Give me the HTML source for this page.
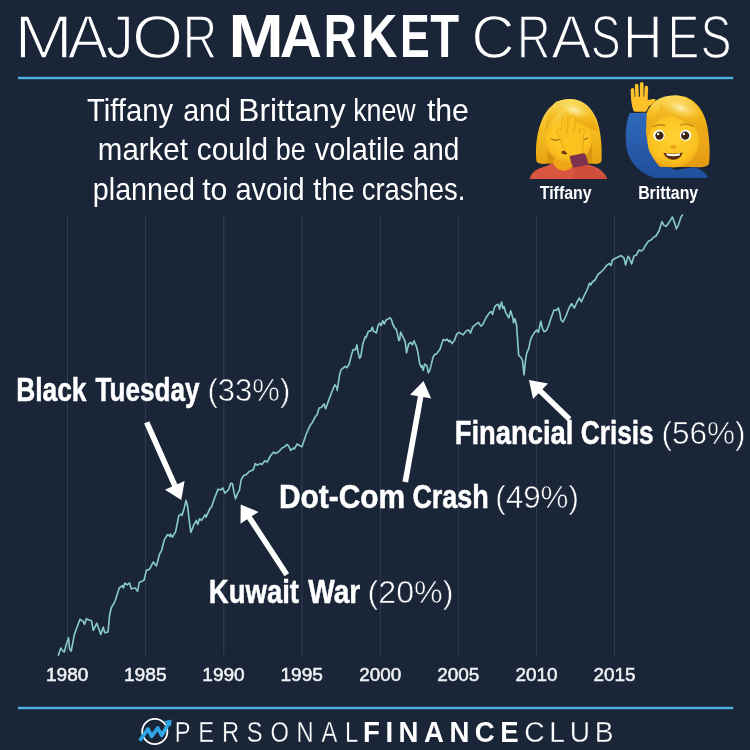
<!DOCTYPE html>
<html lang="en">
<head>
<meta charset="utf-8">
<title>Major Market Crashes</title>
<style>
html,body{margin:0;padding:0;background:#1a2538;}
body{width:750px;height:750px;overflow:hidden;position:relative;font-family:"Liberation Sans", sans-serif;}
svg{display:block}
#chart{will-change:transform;position:absolute;left:0;top:0;width:750px;height:750px;font-family:"Liberation Sans", sans-serif;}
#chart text{white-space:pre}
</style>
</head>
<body>
<svg id="chart" width="750" height="750" viewBox="0 0 750 750">
<rect width="750" height="750" fill="#1a2538"/>
<g id="rules" fill="#4eafde">
<rect x="18" y="76.75" width="715.2" height="2.45"/>
<rect x="18" y="706.75" width="715.2" height="2.45"/>
</g>
<g id="grid" stroke="#323e50" stroke-width="1"><line x1="67.5" y1="215" x2="67.5" y2="655.5"/><line x1="145.6" y1="215" x2="145.6" y2="655.5"/><line x1="223.8" y1="215" x2="223.8" y2="655.5"/><line x1="302.0" y1="215" x2="302.0" y2="655.5"/><line x1="380.3" y1="215" x2="380.3" y2="655.5"/><line x1="458.4" y1="215" x2="458.4" y2="655.5"/><line x1="536.6" y1="215" x2="536.6" y2="655.5"/><line x1="614.6" y1="215" x2="614.6" y2="655.5"/></g>
<polyline id="index" points="58.4,655.2 60.8,648.0 62.4,650.4 64.3,652.0 66.4,644.0 68.5,637.9 69.6,648.8 71.2,651.2 74.4,634.4 80.0,619.2 83.2,621.6 84.5,624.5 86.4,618.7 88.8,620.0 91.5,620.8 93.3,630.4 96.8,623.2 100.8,634.4 103.2,627.2 104.8,632.8 108.0,632.0 109.6,615.2 111.2,608.0 115.2,600.8 119.2,588.0 122.4,585.6 123.5,588.0 124.8,583.2 127.2,584.8 129.6,582.9 131.2,588.8 135.2,588.0 137.6,591.2 139.2,582.4 144.0,580.3 146.4,570.4 148.8,569.6 150.0,568.4 153.2,562.0 156.4,566.0 159.6,554.0 161.5,550.8 164.4,539.6 167.6,534.5 170.0,536.4 170.5,534.0 172.4,537.2 175.6,531.6 178.8,515.6 181.2,514.0 182.0,515.6 184.4,507.6 186.0,500.4 187.6,506.0 189.2,520.4 190.8,532.4 194.0,524.4 196.4,520.4 197.7,524.4 199.6,518.8 201.5,520.4 205.2,514.8 206.0,517.2 210.0,508.4 211.6,506.8 214.0,499.6 218.0,489.2 220.4,490.0 222.8,488.0 224.9,493.2 228.4,490.0 230.8,483.3 232.4,483.6 234.0,492.4 235.6,498.8 238.0,492.4 239.3,490.8 241.2,479.6 243.6,475.6 246.0,474.8 249.2,471.6 253.2,470.0 255.3,463.6 257.2,465.2 260.4,463.6 262.0,464.4 264.8,460.8 267.2,462.1 270.4,456.0 273.6,452.0 275.2,453.6 278.4,452.0 282.4,447.7 284.0,447.2 287.2,444.5 288.8,446.4 290.7,450.4 293.6,448.0 294.4,448.8 297.1,444.0 301.9,446.9 306.4,433.6 310.4,424.8 312.0,423.2 315.2,416.8 316.8,415.2 319.2,408.0 321.6,407.2 324.0,404.0 325.6,408.8 328.8,400.0 331.2,393.6 334.8,384.8 336.7,387.2 337.2,390.4 339.6,374.4 341.2,369.6 345.2,366.4 346.8,367.7 349.2,364.0 351.6,354.4 353.2,349.6 355.6,349.6 356.9,344.8 358.0,352.0 359.6,358.4 360.7,356.8 362.8,344.0 365.2,336.8 366.0,337.6 368.4,331.2 370.8,330.9 372.4,327.2 373.5,331.2 376.4,332.8 378.0,325.6 379.6,323.2 381.2,325.6 382.8,320.8 384.4,324.0 386.0,320.0 387.6,319.2 390.0,317.6 391.6,320.0 392.7,324.0 394.8,328.0 396.4,329.6 397.5,334.4 398.8,340.5 399.6,340.0 400.7,332.0 403.6,338.4 405.2,341.6 406.5,352.8 408.7,344.0 410.8,342.4 412.4,344.8 414.0,340.8 416.4,346.4 418.0,352.8 419.6,363.2 421.2,367.2 422.0,365.6 423.1,370.4 424.7,364.0 426.8,365.6 428.4,372.8 430.0,369.6 433.2,356.8 434.8,354.4 436.4,353.9 440.0,349.2 443.2,339.6 445.6,340.4 447.2,339.1 448.8,341.7 449.9,340.4 452.0,343.6 454.4,340.4 456.8,334.0 459.2,332.4 461.6,334.0 463.2,334.8 466.4,330.8 468.8,330.0 470.4,333.2 472.8,326.8 476.0,324.1 478.4,322.5 480.8,326.0 482.4,325.2 486.4,317.2 489.6,312.4 491.5,311.6 492.5,314.5 494.4,307.6 496.0,305.2 498.4,304.4 499.5,309.2 501.6,302.0 502.9,308.4 504.0,306.5 505.6,312.4 508.0,316.4 508.8,318.0 510.7,310.8 512.8,318.0 513.6,322.8 514.9,318.8 516.5,324.4 517.6,340.4 518.7,355.6 520.8,357.2 522.4,360.4 524.0,374.8 525.6,359.6 526.7,353.2 528.8,348.4 530.4,340.4 532.0,336.4 535.2,331.6 536.8,330.0 538.4,332.4 540.8,321.2 542.4,328.4 544.0,331.6 546.4,330.8 548.8,325.2 550.0,321.0 554.0,310.0 556.4,310.4 558.4,308.0 560.0,314.0 561.0,320.0 563.0,322.0 566.0,316.0 569.0,308.0 571.6,303.6 574.4,308.0 577.0,302.0 579.4,298.0 581.4,302.0 584.0,296.0 587.0,290.0 589.6,283.0 590.6,285.0 592.4,282.0 595.0,280.0 598.0,274.4 601.0,272.0 604.0,269.0 607.0,265.0 609.6,263.6 611.0,265.6 612.4,260.0 616.0,258.0 619.0,256.4 621.0,255.6 624.0,258.0 625.6,265.0 628.0,256.4 629.4,258.0 631.6,264.0 634.0,256.0 636.4,255.0 639.0,250.0 641.6,251.0 643.6,249.0 646.0,244.4 648.6,241.0 651.0,240.0 654.0,237.0 656.0,236.0 659.0,231.0 662.0,221.6 663.6,225.0 666.0,226.4 669.0,222.4 672.4,217.0 675.0,224.0 676.4,229.0 678.4,225.0 681.0,217.0 682.4,215.0" fill="none" stroke="#86cac3" stroke-width="1.65" stroke-linejoin="round" stroke-linecap="round"/>
<g id="arrows" fill="#fff"><polygon points="144.1,423.4 172.2,486.5 165.0,489.8 181.3,500.0 184.6,481.0 177.3,484.2 149.3,421.2"/><polygon points="289.1,573.2 251.8,516.2 258.5,511.9 240.7,504.4 240.5,523.7 247.1,519.3 284.5,576.2"/><polygon points="408.1,482.5 423.4,397.1 431.2,398.6 423.5,380.9 410.1,394.7 417.9,396.2 402.5,481.5"/><polygon points="571.4,417.2 542.5,389.2 548.0,383.5 529.0,380.1 533.0,398.9 538.6,393.2 567.6,421.2"/></g>
<svg id="tiffany" x="525" y="90" width="90" height="90" viewBox="0 0 750 750">
<defs>
<linearGradient id="hairG" x1="0" y1="0" x2="0" y2="1"><stop offset="0" stop-color="#fbd95a"/><stop offset="0.5" stop-color="#f4bb1f"/><stop offset="1" stop-color="#e7a312"/></linearGradient>
<radialGradient id="skinG" cx="0.5" cy="0.4" r="0.65"><stop offset="0" stop-color="#fdd233"/><stop offset="0.7" stop-color="#fbc21f"/><stop offset="1" stop-color="#eea417"/></radialGradient>
<radialGradient id="hlT" cx="0.5" cy="0.5" r="0.5"><stop offset="0" stop-color="#fff6c8" stop-opacity=".85"/><stop offset="1" stop-color="#fbd95a" stop-opacity="0"/></radialGradient>
</defs>
<path d="M95 590C85 480 95 330 160 210C215 115 300 75 375 75C470 75 550 130 595 240C630 330 645 470 638 590C636 612 600 622 555 612L185 612C140 622 98 612 95 590Z" fill="url(#hairG)"/>
<path d="M190 612L555 612L560 430L185 430Z" fill="#d8930f"/>
<path d="M40 742C50 690 90 660 160 640L260 600L400 600L540 625C620 650 670 690 685 742Z" fill="#d8553f"/>
<path d="M232 600C255 690 385 700 412 605L400 560L250 560Z" fill="#eea416"/>
<ellipse cx="365" cy="420" rx="192" ry="185" fill="url(#skinG)"/>
<path d="M250 105C200 160 168 250 172 350C200 285 240 225 285 190Z" fill="url(#hairG)"/>
<path d="M250 105C300 205 450 295 607 350C597 240 545 130 440 90C370 65 290 80 250 105Z" fill="url(#hairG)"/>
<ellipse cx="410" cy="165" rx="150" ry="72" fill="url(#hlT)" transform="rotate(18 410 165)"/>
<path d="M215 405Q250 428 290 410" fill="none" stroke="#9a6410" stroke-width="9" stroke-linecap="round"/>
<path d="M470 408Q495 418 520 400" fill="none" stroke="#9a6410" stroke-width="9" stroke-linecap="round"/>
<ellipse cx="330" cy="522" rx="27" ry="14" fill="#6a3a0d" transform="rotate(12 330 522)"/>
<g fill="none" stroke-linecap="round" stroke="#e6a014">
<path d="M322 350L334 246" stroke-width="52"/><path d="M378 340L395 242" stroke-width="54"/><path d="M428 350L444 288" stroke-width="50"/><path d="M464 380L482 338" stroke-width="44"/><path d="M318 400L284 348" stroke-width="44"/>
</g>
<path d="M288 350C285 430 328 520 384 556L474 536C488 470 492 400 482 352Z" fill="#fac11f" stroke="#e6a014" stroke-width="8"/>
<g fill="none" stroke-linecap="round" stroke="#fac11f">
<path d="M322 350L334 246" stroke-width="42"/><path d="M378 340L395 242" stroke-width="44"/><path d="M428 350L444 288" stroke-width="40"/><path d="M464 380L482 338" stroke-width="34"/><path d="M318 400L284 348" stroke-width="34"/>
</g>
<path d="M372 550L496 526C516 560 526 600 528 626L402 648C386 612 376 580 372 550Z" fill="#7d3350"/>
<path d="M402 648L528 626C590 660 652 700 685 742L410 742Z" fill="#cf4e3b"/>
</svg>

<svg id="brittany" x="620" y="78" width="100" height="100" viewBox="0 0 750 750">
<defs>
<linearGradient id="blueG" x1="0" y1="0" x2="0" y2="1"><stop offset="0" stop-color="#2f69bb"/><stop offset="1" stop-color="#1f4f9b"/></linearGradient>
<linearGradient id="hairB" x1="0" y1="0" x2="0" y2="1"><stop offset="0" stop-color="#f6c02a"/><stop offset="0.5" stop-color="#efab1a"/><stop offset="1" stop-color="#e39a11"/></linearGradient>
<radialGradient id="hlG" cx="0.5" cy="0.5" r="0.5"><stop offset="0" stop-color="#fff6c8" stop-opacity=".85"/><stop offset="1" stop-color="#fbd95a" stop-opacity="0"/></radialGradient>
</defs>
<path d="M72 262C45 330 36 430 48 520C60 620 140 712 260 752L657 752C655 722 620 692 560 668L420 690C330 665 250 600 225 520C205 440 198 340 203 262Z" fill="url(#blueG)"/>
<path d="M200 262C230 180 330 130 430 132C540 135 622 220 652 350C672 450 677 560 668 640C664 668 610 674 560 668L300 668C240 610 200 500 195 400Z" fill="url(#hairB)"/>
<ellipse cx="400" cy="478" rx="193" ry="193" fill="url(#skinG)"/>
<path d="M285 160C230 190 198 260 203 392C225 325 260 272 304 232Z" fill="url(#hairG)"/>
<path d="M285 160C330 262 480 342 654 404C644 282 572 162 430 132C370 128 320 140 285 160Z" fill="url(#hairG)"/>
<ellipse cx="455" cy="225" rx="150" ry="70" fill="url(#hlG)" transform="rotate(22 455 225)"/>
<path d="M250 366Q290 340 335 356" fill="none" stroke="#c08816" stroke-width="11" stroke-linecap="round"/>
<path d="M455 353Q500 335 545 363" fill="none" stroke="#c08816" stroke-width="11" stroke-linecap="round"/>
<ellipse cx="293" cy="430" rx="43" ry="41" fill="#fff"/>
<ellipse cx="492" cy="430" rx="43" ry="41" fill="#fff"/>
<circle cx="296" cy="432" r="31" fill="#3a2410"/>
<circle cx="489" cy="432" r="31" fill="#3a2410"/>
<circle cx="286" cy="420" r="9" fill="#fff"/>
<circle cx="479" cy="420" r="9" fill="#fff"/>
<ellipse cx="400" cy="516" rx="23" ry="14" fill="#ee9f18"/>
<path d="M325 560Q400 576 470 558Q455 610 400 613Q345 610 325 560Z" fill="#5b2c10"/>
<path d="M345 565Q400 579 452 564L447 581Q400 591 353 582Z" fill="#fff"/>
<g fill="none" stroke="#fbc02a" stroke-linecap="round" stroke-width="27">
<path d="M96 150L94 88"/><path d="M128 140L125 56"/><path d="M163 138L163 43"/><path d="M194 145L198 72"/>
</g>
<path d="M82 140C84 185 92 225 104 250L192 254C204 240 212 225 215 214C240 200 262 180 268 164C262 150 235 160 208 166L208 140Z" fill="#fbc02a"/>
<path d="M104 250L192 254" stroke="#e09a14" stroke-width="6" fill="none"/>
</svg>

<g id="logo">
<circle cx="154.8" cy="731.5" r="12.6" fill="none" stroke="#fff" stroke-width="1.8"/>
<polyline points="139.7,740.7 148,729 151.7,736.3 157.7,728 161.7,735.3 169,723" fill="none" stroke="#2fa6e6" stroke-width="3.7" stroke-linejoin="round"/>
<polygon points="171.6,719.6 163.8,721.2 170.9,726.6" fill="#2fa6e6"/>
</g>
<g id="labels" fill="#fff">
<text id="t_major" font-size="61.90" stroke="#1a2538" stroke-width="1.60"><tspan id="t_major_0" class="ti" x="14.25" y="57.60" textLength="58.73" lengthAdjust="spacingAndGlyphs">M</tspan><tspan id="t_major_1" class="ti" x="67.75" y="57.60" textLength="40.32" lengthAdjust="spacingAndGlyphs">A</tspan><tspan id="t_major_2" class="ti" x="105.90" y="57.60" textLength="27.61" lengthAdjust="spacingAndGlyphs">J</tspan><tspan id="t_major_3" class="ti" x="132.00" y="57.60" textLength="51.19" lengthAdjust="spacingAndGlyphs">O</tspan><tspan id="t_major_4" class="ti" x="182.65" y="57.60" textLength="34.46" lengthAdjust="spacingAndGlyphs">R</tspan></text>
<text id="t_market" font-size="61.10" font-weight="700"><tspan id="t_market_0" class="ti" x="228.40" y="56.80" textLength="55.15" lengthAdjust="spacingAndGlyphs">M</tspan><tspan id="t_market_1" class="ti" x="279.85" y="56.80" textLength="42.18" lengthAdjust="spacingAndGlyphs">A</tspan><tspan id="t_market_2" class="ti" x="323.85" y="56.80" textLength="33.11" lengthAdjust="spacingAndGlyphs">R</tspan><tspan id="t_market_3" class="ti" x="360.75" y="56.80" textLength="36.64" lengthAdjust="spacingAndGlyphs">K</tspan><tspan id="t_market_4" class="ti" x="400.00" y="56.80" textLength="29.76" lengthAdjust="spacingAndGlyphs">E</tspan><tspan id="t_market_5" class="ti" x="430.20" y="56.80" textLength="28.83" lengthAdjust="spacingAndGlyphs">T</tspan></text>
<text id="t_crashes" font-size="61.90" stroke="#1a2538" stroke-width="1.60"><tspan id="t_crashes_0" class="ti" x="471.25" y="57.60" textLength="43.57" lengthAdjust="spacingAndGlyphs">C</tspan><tspan id="t_crashes_1" class="ti" x="517.05" y="57.60" textLength="33.58" lengthAdjust="spacingAndGlyphs">R</tspan><tspan id="t_crashes_2" class="ti" x="551.20" y="57.60" textLength="40.01" lengthAdjust="spacingAndGlyphs">A</tspan><tspan id="t_crashes_3" class="ti" x="590.70" y="57.60" textLength="29.84" lengthAdjust="spacingAndGlyphs">S</tspan><tspan id="t_crashes_4" class="ti" x="622.75" y="57.60" textLength="39.87" lengthAdjust="spacingAndGlyphs">H</tspan><tspan id="t_crashes_5" class="ti" x="667.50" y="57.60" textLength="31.86" lengthAdjust="spacingAndGlyphs">E</tspan><tspan id="t_crashes_6" class="ti" x="700.55" y="57.60" textLength="31.05" lengthAdjust="spacingAndGlyphs">S</tspan></text>
<text id="s1_0" class="ti" x="86.95" y="120.60" font-size="31.50" textLength="86.06" lengthAdjust="spacingAndGlyphs">Tiffany</text>
<text id="s1_1" class="ti" x="183.15" y="120.60" font-size="31.50" textLength="47.79" lengthAdjust="spacingAndGlyphs">and</text>
<text id="s1_2" class="ti" x="238.35" y="120.60" font-size="31.50" textLength="107.27" lengthAdjust="spacingAndGlyphs">Brittany</text>
<text id="s1_3" class="ti" x="353.25" y="120.60" font-size="31.50" textLength="62.40" lengthAdjust="spacingAndGlyphs">knew</text>
<text id="s1_4" class="ti" x="426.90" y="120.60" font-size="31.50" textLength="42.06" lengthAdjust="spacingAndGlyphs">the</text>
<text id="s2_0" class="ti" x="97.85" y="160.30" font-size="31.50" textLength="90.05" lengthAdjust="spacingAndGlyphs">market</text>
<text id="s2_1" class="ti" x="196.75" y="160.30" font-size="31.50" textLength="71.30" lengthAdjust="spacingAndGlyphs">could</text>
<text id="s2_2" class="ti" x="275.80" y="160.30" font-size="31.50" textLength="29.92" lengthAdjust="spacingAndGlyphs">be</text>
<text id="s2_3" class="ti" x="314.80" y="160.30" font-size="31.50" textLength="90.12" lengthAdjust="spacingAndGlyphs">volatile</text>
<text id="s2_4" class="ti" x="412.75" y="160.30" font-size="31.50" textLength="46.63" lengthAdjust="spacingAndGlyphs">and</text>
<text id="s3_0" class="ti" x="92.85" y="200.40" font-size="31.50" textLength="102.04" lengthAdjust="spacingAndGlyphs">planned</text>
<text id="s3_1" class="ti" x="202.20" y="200.40" font-size="31.50" textLength="25.18" lengthAdjust="spacingAndGlyphs">to</text>
<text id="s3_2" class="ti" x="235.45" y="200.40" font-size="31.50" textLength="69.29" lengthAdjust="spacingAndGlyphs">avoid</text>
<text id="s3_3" class="ti" x="312.90" y="200.40" font-size="31.50" textLength="41.77" lengthAdjust="spacingAndGlyphs">the</text>
<text id="s3_4" class="ti" x="361.80" y="200.40" font-size="31.50" textLength="103.48" lengthAdjust="spacingAndGlyphs">crashes.</text>
<text id="n1" class="ti" x="539.75" y="198.60" font-size="18.00" font-weight="700" textLength="51.95" lengthAdjust="spacingAndGlyphs">Tiffany</text>
<text id="n2" class="ti" x="638.15" y="198.60" font-size="18.00" font-weight="700" textLength="60.07" lengthAdjust="spacingAndGlyphs">Brittany</text>
<text id="l1a" class="ti" x="16.15" y="400.90" font-size="33.50" font-weight="700" stroke="#fff" stroke-width="0.50" textLength="70.37" lengthAdjust="spacingAndGlyphs">Black</text>
<text id="l1b" class="ti" x="95.45" y="400.90" font-size="33.50" font-weight="700" stroke="#fff" stroke-width="0.50" textLength="104.00" lengthAdjust="spacingAndGlyphs">Tuesday</text>
<text id="l1p" class="ti" x="207.45" y="400.90" font-size="31.50" stroke="#1a2538" stroke-width="0.60" textLength="82.78" lengthAdjust="spacingAndGlyphs">(33%)</text>
<text id="l2a" class="ti" x="208.80" y="603.20" font-size="33.50" font-weight="700" stroke="#fff" stroke-width="0.50" textLength="90.23" lengthAdjust="spacingAndGlyphs">Kuwait</text>
<text id="l2b" class="ti" x="308.25" y="603.20" font-size="33.50" font-weight="700" stroke="#fff" stroke-width="0.50" textLength="52.00" lengthAdjust="spacingAndGlyphs">War</text>
<text id="l2p" class="ti" x="367.55" y="603.20" font-size="31.50" stroke="#1a2538" stroke-width="0.60" textLength="85.89" lengthAdjust="spacingAndGlyphs">(20%)</text>
<text id="l3a" class="ti" x="278.95" y="507.80" font-size="33.50" font-weight="700" stroke="#fff" stroke-width="0.50" textLength="126.19" lengthAdjust="spacingAndGlyphs">Dot-Com</text>
<text id="l3b" class="ti" x="412.40" y="507.80" font-size="33.50" font-weight="700" stroke="#fff" stroke-width="0.50" textLength="76.47" lengthAdjust="spacingAndGlyphs">Crash</text>
<text id="l3p" class="ti" x="495.25" y="507.80" font-size="31.50" stroke="#1a2538" stroke-width="0.60" textLength="83.69" lengthAdjust="spacingAndGlyphs">(49%)</text>
<text id="l4a" class="ti" x="454.80" y="444.10" font-size="33.50" font-weight="700" stroke="#fff" stroke-width="0.50" textLength="118.49" lengthAdjust="spacingAndGlyphs">Financial</text>
<text id="l4b" class="ti" x="580.75" y="444.10" font-size="33.50" font-weight="700" stroke="#fff" stroke-width="0.50" textLength="72.88" lengthAdjust="spacingAndGlyphs">Crisis</text>
<text id="l4p" class="ti" x="661.45" y="444.10" font-size="31.50" stroke="#1a2538" stroke-width="0.60" textLength="84.13" lengthAdjust="spacingAndGlyphs">(56%)</text>
<text id="a0" class="ti" x="45.95" y="681.40" font-size="18.40" stroke="#f0f2f5" stroke-width="0.50" fill="#f0f2f5" textLength="42.42" lengthAdjust="spacingAndGlyphs">1980</text>
<text id="a1" class="ti" x="123.90" y="681.40" font-size="18.40" stroke="#f0f2f5" stroke-width="0.50" fill="#f0f2f5" textLength="42.68" lengthAdjust="spacingAndGlyphs">1985</text>
<text id="a2" class="ti" x="202.30" y="681.40" font-size="18.40" stroke="#f0f2f5" stroke-width="0.50" fill="#f0f2f5" textLength="42.41" lengthAdjust="spacingAndGlyphs">1990</text>
<text id="a3" class="ti" x="280.45" y="681.40" font-size="18.40" stroke="#f0f2f5" stroke-width="0.50" fill="#f0f2f5" textLength="42.42" lengthAdjust="spacingAndGlyphs">1995</text>
<text id="a4" class="ti" x="359.30" y="681.40" font-size="18.40" stroke="#f0f2f5" stroke-width="0.50" fill="#f0f2f5" textLength="41.88" lengthAdjust="spacingAndGlyphs">2000</text>
<text id="a5" class="ti" x="437.25" y="681.40" font-size="18.40" stroke="#f0f2f5" stroke-width="0.50" fill="#f0f2f5" textLength="42.14" lengthAdjust="spacingAndGlyphs">2005</text>
<text id="a6" class="ti" x="515.40" y="681.40" font-size="18.40" stroke="#f0f2f5" stroke-width="0.50" fill="#f0f2f5" textLength="42.14" lengthAdjust="spacingAndGlyphs">2010</text>
<text id="a7" class="ti" x="593.40" y="681.40" font-size="18.40" stroke="#f0f2f5" stroke-width="0.50" fill="#f0f2f5" textLength="42.14" lengthAdjust="spacingAndGlyphs">2015</text>
<text id="f1" class="ti" x="174.80" y="741.80" font-size="28.90" stroke="#1a2538" stroke-width="0.35" letter-spacing="9.50" textLength="191.22" lengthAdjust="spacingAndGlyphs">PERSONAL</text>
<text id="f2" class="ti" x="363.05" y="741.60" font-size="28.60" font-weight="700" letter-spacing="5.70" textLength="161.13" lengthAdjust="spacingAndGlyphs">FINANCE</text>
<text id="f3" class="ti" x="524.15" y="741.80" font-size="28.90" stroke="#1a2538" stroke-width="0.35" letter-spacing="4.90" textLength="94.24" lengthAdjust="spacingAndGlyphs">CLUB</text>
</g>
</svg>
</body>
</html>
